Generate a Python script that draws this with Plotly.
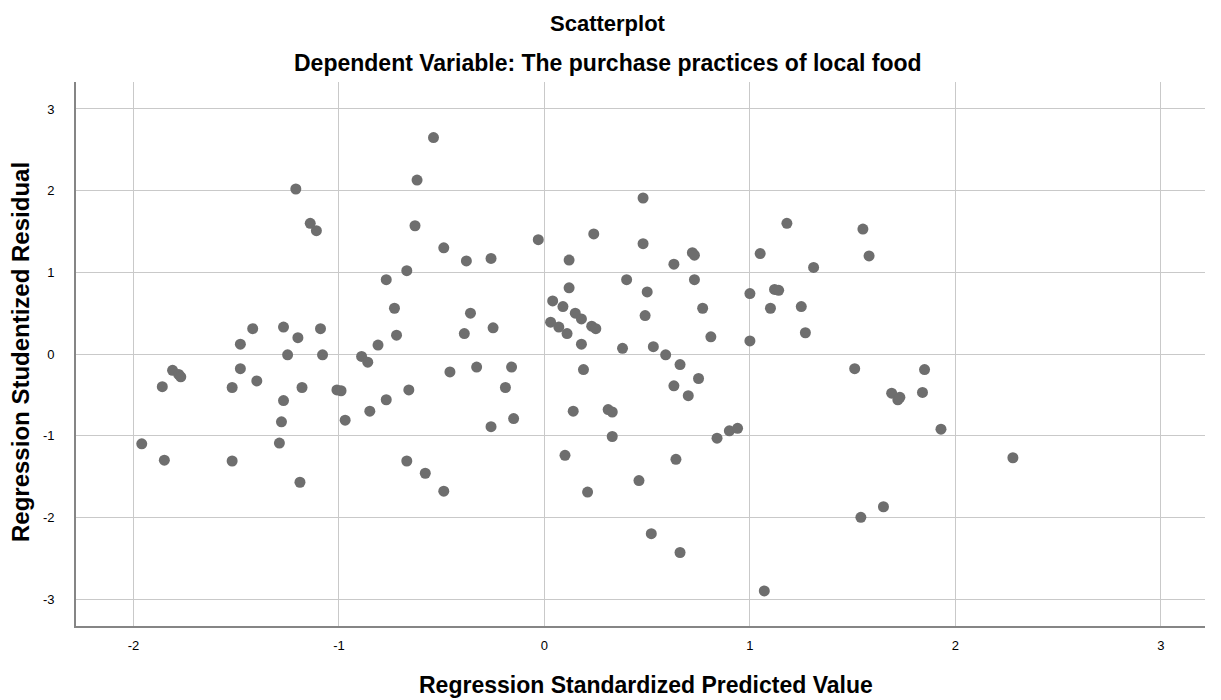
import plotly.graph_objects as go

# Regression Standardized Predicted Value
pred = [-1.96, -1.86, -1.85, -1.81, -1.78, -1.77, -1.52, -1.52, -1.48, -1.48,
        -1.42, -1.40, -1.27, -1.27, -1.28, -1.29, -1.25, -1.20, -1.18, -1.19,
        -1.21, -1.14, -1.11, -1.09, -1.08, -1.01, -0.99, -0.97, -0.89, -0.86,
        -0.85, -0.81, -0.77, -0.77, -0.73, -0.72, -0.67, -0.66, -0.67, -0.63,
        -0.62, -0.58, -0.54, -0.49, -0.49, -0.46, -0.38, -0.36, -0.39, -0.33,
        -0.26, -0.25, -0.26, -0.19, -0.16, -0.15, -0.03,
        0.03, 0.04, 0.07, 0.09, 0.11, 0.12, 0.12, 0.10, 0.14, 0.15,
        0.18, 0.18, 0.19, 0.21, 0.23, 0.25, 0.24, 0.31, 0.33, 0.33,
        0.38, 0.40, 0.46, 0.48, 0.48, 0.49, 0.50, 0.52, 0.53, 0.59,
        0.63, 0.63, 0.64, 0.66, 0.66, 0.70, 0.72, 0.73, 0.73, 0.75,
        0.77, 0.81, 0.84, 0.90, 0.94, 1.00, 1.00, 1.05, 1.07, 1.10,
        1.12, 1.14, 1.18, 1.25, 1.27, 1.31, 1.51, 1.54, 1.55, 1.58,
        1.65, 1.69, 1.72, 1.73, 1.84, 1.85, 1.93, 2.28]

# Regression Studentized Residual
resid = [-1.10, -0.40, -1.30, -0.20, -0.25, -0.28, -0.41, -1.31, -0.18, 0.12,
         0.31, -0.33, 0.33, -0.57, -0.83, -1.09, -0.01, 0.20, -0.41, -1.57,
         2.02, 1.60, 1.51, 0.31, -0.01, -0.44, -0.45, -0.81, -0.03, -0.10,
         -0.70, 0.11, 0.91, -0.56, 0.56, 0.23, 1.02, -0.44, -1.31, 1.57,
         2.13, -1.46, 2.65, 1.30, -1.68, -0.22, 1.14, 0.50, 0.25, -0.16,
         1.17, 0.32, -0.89, -0.41, -0.16, -0.79, 1.40,
         0.39, 0.65, 0.33, 0.58, 0.25, 0.81, 1.15, -1.24, -0.70, 0.50,
         0.43, 0.12, -0.19, -1.69, 0.34, 0.31, 1.47, -0.68, -0.71, -1.01,
         0.07, 0.91, -1.55, 1.91, 1.35, 0.47, 0.76, -2.20, 0.09, -0.01,
         1.10, -0.39, -1.29, -0.13, -2.43, -0.51, 1.24, 1.21, 0.91, -0.30,
         0.56, 0.21, -1.03, -0.94, -0.91, 0.74, 0.16, 1.23, -2.90, 0.56,
         0.79, 0.78, 1.60, 0.58, 0.26, 1.06, -0.18, -2.00, 1.53, 1.20,
         -1.87, -0.48, -0.56, -0.53, -0.47, -0.19, -0.92, -1.27]

tick_vals = [-3, -2, -1, 0, 1, 2, 3]
tick_text = ["-3", "-2", "-1", "0", "1", "2", "3"]

title_main = "Scatterplot"
title_sub = "Dependent Variable: The purchase practices of local food"
x_title = "Regression Standardized Predicted Value"
y_title = "Regression Studentized Residual"

FONT = "Arial, Liberation Sans, sans-serif"
GRID = "#c9c9c9"
AXIS = "#858585"

# page has an 8px body margin; plot area in page pixels: x 76..1205, y 82..626
PX0, PX1, PY0, PY1 = 76, 1205, 82, 626


def px(xp):
    return (xp - PX0) / (PX1 - PX0)


def py(yp):
    return (PY1 - yp) / (PY1 - PY0)


fig = go.Figure()
fig.add_trace(go.Scatter(
    x=pred, y=resid, mode="markers",
    marker=dict(color="#6e6e6e", size=11, line=dict(width=0)),
    showlegend=False, hoverinfo="x+y",
))

fig.update_layout(
    width=1213, height=692,
    margin=dict(l=68, r=16, t=74, b=74),
    paper_bgcolor="white", plot_bgcolor="white",
    font=dict(family=FONT, color="black", size=13),
    xaxis=dict(range=[-2.28, 3.215], tickvals=tick_vals, ticktext=tick_text,
               showgrid=True, gridcolor=GRID, gridwidth=1.4,
               zeroline=False, showline=True, linecolor=AXIS, linewidth=1.6,
               ticks="", ticklabelstandoff=7,
               tickfont=dict(size=13, family=FONT, color="black")),
    yaxis=dict(range=[-3.33, 3.33], tickvals=tick_vals, ticktext=tick_text,
               showgrid=True, gridcolor=GRID, gridwidth=1.4,
               zeroline=False, showline=True, linecolor=AXIS, linewidth=1.6,
               ticks="", ticklabelstandoff=17,
               tickfont=dict(size=13, family=FONT, color="black")),
    annotations=[
        dict(text="<b>" + title_main + "</b>", xref="paper", yref="paper",
             x=px(608), y=py(8.5), xanchor="center", yanchor="top",
             showarrow=False, font=dict(size=22, family=FONT, color="black")),
        dict(text="<b>" + title_sub + "</b>", xref="paper", yref="paper",
             x=px(608), y=py(63), xanchor="center", yanchor="middle",
             showarrow=False, font=dict(size=23, family=FONT, color="black")),
        dict(text="<b>" + x_title + "</b>", xref="paper", yref="paper",
             x=px(646), y=py(685), xanchor="center", yanchor="middle",
             showarrow=False, font=dict(size=23, family=FONT, color="black")),
        dict(text="<b>" + y_title + "</b>", xref="paper", yref="paper",
             x=px(20), y=py(352), xanchor="center", yanchor="middle",
             textangle=-90, showarrow=False, font=dict(size=24, family=FONT, color="black")),
    ],
)

fig.write_html("out.html")
